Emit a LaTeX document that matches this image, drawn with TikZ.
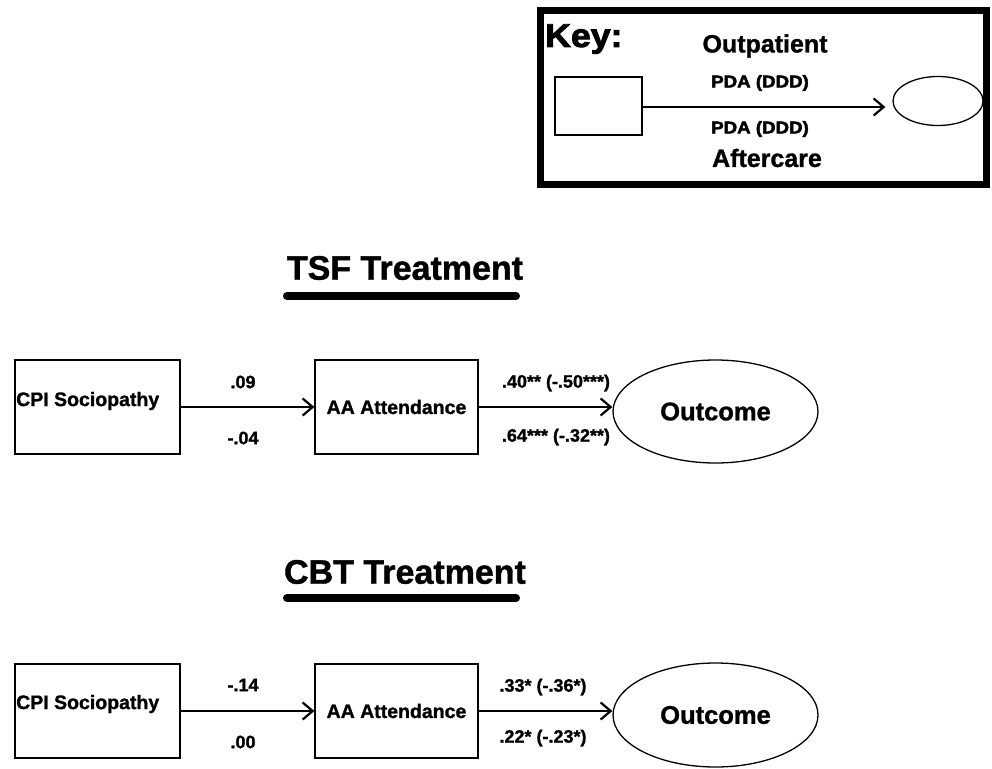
\documentclass[tikz,border=0pt]{standalone}
\usepackage{fontspec}
\setmainfont{Liberation Sans}[BoldFeatures={FakeBold=1.2}]
\newfontfamily\heavyfont{Liberation Sans Bold}[FakeBold=2.5]
\usetikzlibrary{arrows.meta,shapes.geometric}
\begin{document}
\begin{tikzpicture}[x=1pt,y=-1pt,
  box/.style={draw,line width=1.3pt,inner sep=0pt},
  oval/.style={draw,ellipse,line width=1.3pt,inner sep=0pt},
  arr/.style={line width=1.4pt,-{Straight Barb[length=10pt,width=17pt,line width=2.2pt]}},
  lbl/.style={font=\fontsize{18}{20}\selectfont\bfseries},
  keylbl/.style={font=\fontsize{17}{19}\selectfont\heavyfont},
  nodetxt/.style={font=\fontsize{19.5}{21}\selectfont\bfseries},
  title/.style={font=\fontsize{34}{38}\selectfont\bfseries},
  uline/.style={line width=8pt,line cap=round}]
\useasboundingbox (0,0) rectangle (992,768);
% Key
\draw[line width=7pt] (540.5,10.5) rectangle (986.5,184.5);
\node[anchor=base west,font=\fontsize{33}{36}\selectfont\heavyfont,xscale=1.08,inner sep=0pt] (keyt) at (545,47) {Key:};
\node[font=\fontsize{25}{28}\selectfont\bfseries] (outp) at (765,46) {Outpatient};
\node[box,minimum width=87pt,minimum height=58pt] (kbox) at (598.5,106) {};
\node[oval,minimum width=90pt,minimum height=49pt] (kov) at (938,101) {};
\draw[arr,shorten >=7pt] (kbox.east |- 0,107) coordinate (ks) -- (kov.west |- 0,107);
\node[keylbl,xscale=1.1] (kl1) at (760,83) {PDA (DDD)};
\node[keylbl,xscale=1.1] (kl2) at (760,129) {PDA (DDD)};
\node[font=\fontsize{25}{28}\selectfont\bfseries] (aftc) at (767,158) {Aftercare};
% TSF
\node[title] (tsf) at (405,268) {TSF Treatment};
\coordinate (tsfa) at (287,296); \coordinate (tsfb) at (516,296);
\draw[uline] (tsfa) -- (tsfb);
\node[box,minimum width=165pt,minimum height=94pt] (cpi1) at (97.5,407) {};
\node[nodetxt,anchor=west,inner sep=0pt] (cpi1t) at (16,401) {CPI Sociopathy};
\node[box,minimum width=163pt,minimum height=94pt,nodetxt] (aa1) at (396.5,407) {AA Attendance};
\node[oval,minimum width=205pt,minimum height=103pt,font=\fontsize{25.5}{28}\selectfont\bfseries] (out1) at (715.5,411.5) {Outcome};
\draw[arr] (cpi1.east) -- (aa1.west);
\draw[arr] (aa1.east) -- (out1.west |- aa1.east);
\node[lbl] (l1a) at (243,382) {.09};
\node[lbl] (l1b) at (243,438) {-.04};
\node[lbl] (l1c) at (556,383) {.40** (-.50***)};
\node[lbl] (l1d) at (556,437) {.64*** (-.32**)};
% CBT
\node[title] (cbt) at (405,572) {CBT Treatment};
\coordinate (cbta) at (287,598); \coordinate (cbtb) at (516,598);
\draw[uline] (cbta) -- (cbtb);
\node[box,minimum width=165pt,minimum height=94pt] (cpi2) at (97.5,711) {};
\node[nodetxt,anchor=west,inner sep=0pt] (cpi2t) at (16,704) {CPI Sociopathy};
\node[box,minimum width=163pt,minimum height=94pt,nodetxt] (aa2) at (396.5,711) {AA Attendance};
\node[oval,minimum width=205pt,minimum height=104pt,font=\fontsize{25.5}{28}\selectfont\bfseries] (out2) at (715.5,715) {Outcome};
\draw[arr] (cpi2.east) -- (aa2.west);
\draw[arr] (aa2.east) -- (out2.west |- aa2.east);
\node[lbl] (l2a) at (243,685) {-.14};
\node[lbl] (l2b) at (243,742) {.00};
\node[lbl] (l2c) at (543,687) {.33* (-.36*)};
\node[lbl] (l2d) at (543,738) {.22* (-.23*)};
\end{tikzpicture}
\end{document}
